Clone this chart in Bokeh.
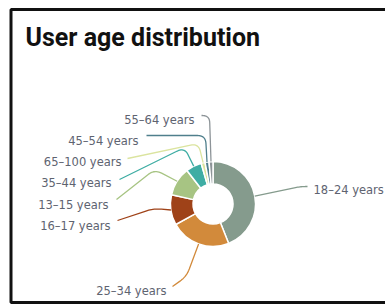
import numpy as np
from bokeh.plotting import figure
from bokeh.models import Range1d, BoxAnnotation, Label, ColumnDataSource
from bokeh.core.properties import value
from bokeh.embed import file_html
from bokeh.resources import INLINE

# ---- data ----
categories = ["18–24 years", "25–34 years", "16–17 years", "13–15 years",
              "35–44 years", "65–100 years", "45–54 years", "55–64 years"]
shares = [44, 23, 11.5, 11, 6, 1.5, 1.5, 1.5]
colors = ["#859b8d", "#d28a3b", "#9f4218", "#a7c483",
          "#3fada4", "#dbe49f", "#4f7f8c", "#8d9498"]

# ---- layout (screen pixels) ----
CX, CY = 212.5, 203.5
R_OUT, R_IN = 42.5, 20
label_pos = [(313, 189), (166, 290), (110, 225), (108, 204),
             (111, 182), (121, 161.5), (138, 140), (194, 119)]
conn_bend = [(300, 186), (186, 276), (153, 208), (154, 169),
             (184, 147), (198, 143), (205, 135), (209, 115)]
conn_end = [(307, 186), (172, 286), (117, 220), (116, 199),
            (119, 179), (127, 158), (146, 135), (201, 115)]

W, H = 385, 307
p = figure(width=W, height=H, output_backend="svg", toolbar_location=None,
           x_range=Range1d(0, W), y_range=Range1d(-H, 0),
           x_axis_location=None, y_axis_location=None, min_border=0,
           background_fill_color="white", border_fill_color="white")
p.grid.visible = False
p.outline_line_color = None

# slices, clockwise from 12 o'clock
tot = float(sum(shares))
cum = np.concatenate([[0], np.cumsum(shares)]) / tot * 360.0
start_cw, end_cw = cum[:-1], cum[1:]
src = ColumnDataSource(dict(
    start=np.radians(90 - end_cw), end=np.radians(90 - start_cw),
    color=colors, cat=categories))
p.annular_wedge(x=CX, y=-CY, inner_radius=R_IN, outer_radius=R_OUT,
                start_angle="start", end_angle="end", fill_color="color",
                line_color="white", line_width=1.5, source=src)

# connectors
def rounded(points, rad=8):
    pts = [np.array(pt, float) for pt in points]
    out = [pts[0]]
    for i in range(1, len(pts) - 1):
        a, b, c = pts[i - 1], pts[i], pts[i + 1]
        u1 = (b - a) / np.linalg.norm(b - a)
        u2 = (c - b) / np.linalg.norm(c - b)
        r = min(rad, 0.9 * np.linalg.norm(b - a), 0.9 * np.linalg.norm(c - b))
        s, e = b - u1 * r, b + u2 * r
        t = np.linspace(0, 1, 12)[:, None]
        curve = (1 - t) ** 2 * s + 2 * (1 - t) * t * b + t ** 2 * e
        out.extend(list(curve))
    out.append(pts[-1])
    arr = np.array(out)
    return arr[:, 0], arr[:, 1]

mid = (start_cw + end_cw) / 2
for i in range(len(categories)):
    th = np.radians(mid[i])
    ex, ey = CX + R_OUT * np.sin(th), CY - R_OUT * np.cos(th)
    xs, ys = rounded([(ex, ey), conn_bend[i], conn_end[i]])
    p.line(xs, -ys, line_color=colors[i], line_width=1.3)

# labels
left_idx = [i for i in range(len(categories)) if label_pos[i][0] > CX]
right_idx = [i for i in range(len(categories)) if label_pos[i][0] <= CX]
for idx, align in ((left_idx, "left"), (right_idx, "right")):
    p.text(x=[label_pos[i][0] for i in idx], y=[-label_pos[i][1] for i in idx],
           text=[categories[i] for i in idx], text_align=align,
           text_baseline="middle", text_font=value("DejaVu Sans"),
           text_font_size=value("11.5px"), text_color="#5e6370")

# title
p.add_layout(Label(x=25, y=-37, text="User age distribution",
                   text_font="Roboto", text_font_style="bold",
                   text_font_size="25px", text_color="#111111",
                   text_baseline="alphabetic"))

# frame border
p.add_layout(BoxAnnotation(left=10.5, right=W + 20, top=-9, bottom=-302,
                           fill_alpha=0, line_color="#111111", line_alpha=1,
                           line_width=3))

open("out.html", "w").write(file_html(p, INLINE))
